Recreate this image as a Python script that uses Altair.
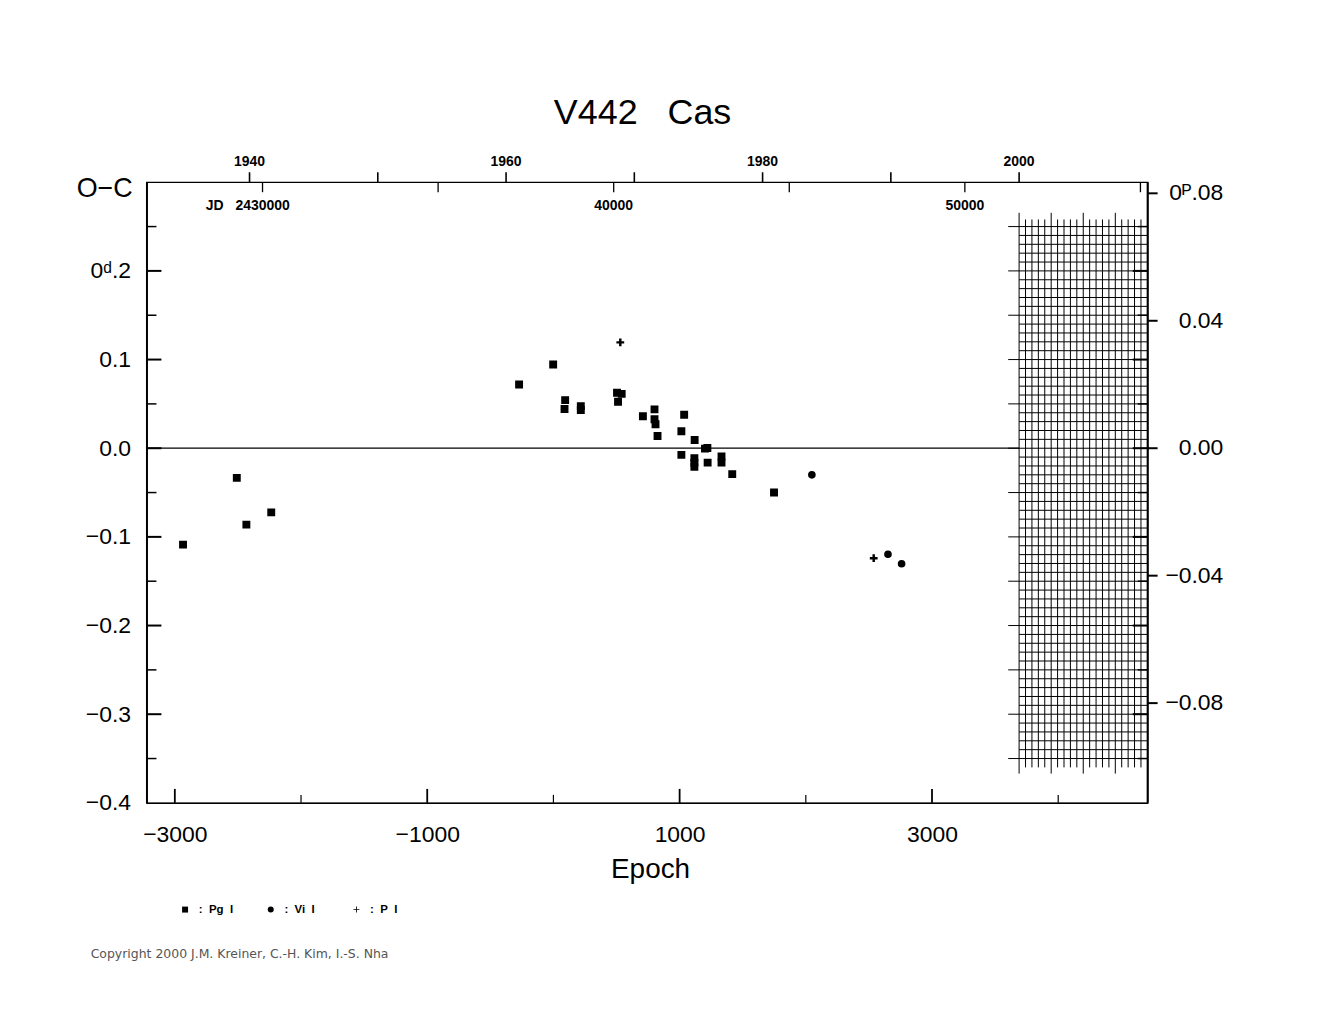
import altair as alt
import pandas as pd
import numpy as np

FONT = "Liberation Sans"

# ---- ephemeris used for the top (calendar / JD) scales ----
T0 = 2438283.7
PER = 3.5937

def jd_to_epoch(jd):
    return (jd - T0) / PER

def year_to_epoch(y):
    return jd_to_epoch(2451545.0 + (y - 2000.0) * 365.25)

# ---- observations (epoch, O-C in days) ----
pg_epoch = [-2935, -2509, -2433, -2236, -272, -2, 93, 88, 217, 217, 504, 541, 512,
            709, 801, 801, 809, 825, 1036, 1014, 1119, 1220, 1201, 1014, 1117, 1117,
            1117, 1222, 1332, 1332, 1417, 1748]
pg_oc = [-0.1087, -0.0334, -0.0862, -0.0724, 0.0719, 0.0944, 0.0543, 0.0442, 0.0475,
         0.0430, 0.0625, 0.0613, 0.0524, 0.0360, 0.0438, 0.0326, 0.0270, 0.0138,
         0.0378, 0.0191, 0.0093, 0.0003, -0.0004, -0.0075, -0.0112, -0.0162, -0.0210,
         -0.0162, -0.0092, -0.0162, -0.0292, -0.0499]
vi_epoch = [2048, 2651, 2759]
vi_oc = [-0.030, -0.1196, -0.1303]
p_epoch = [530, 2538]
p_oc = [0.1194, -0.124]

SRC = ["Pg", "Vi", "P"]
PLUS = "M-1,-0.14H-0.14V-1H0.14V-0.14H1V0.14H0.14V1H-0.14V0.14H-1Z"

# ---- axes ----
XMIN, XMAX = -3224.7, 4708.7
YMIN, YMAX = -0.4, 0.3
x_labeled = [-3000, -1000, 1000, 3000]
x_unlabeled = [-2000, 0, 2000, 4000]
y_labels = [-0.4, -0.3, -0.2, -0.1, 0.0, 0.1, 0.2]
y_major = [-0.3, -0.2, -0.1, 0.0, 0.1, 0.2]
y_minor = [-0.35, -0.25, -0.15, -0.05, 0.05, 0.15, 0.25]
phase_ticks = [-0.08, -0.04, 0.0, 0.04, 0.08]
phase_labels = ["\u22120.08", "\u22120.04", "0.00", "0.04", "0\u1d3e.08"]
year_ticks = [1940, 1950, 1960, 1970, 1980, 1990, 2000]
year_labels = ["1940", "", "1960", "", "1980", "", "2000"]
jd_ticks = [2430000, 2435000, 2440000, 2445000, 2450000, 2455000]
jd_labels = ["2430000", "", "40000", "", "50000", ""]

W, H = 1005, 623

xs = alt.Scale(domain=[XMIN, XMAX], nice=False, zero=False)
ys = alt.Scale(domain=[YMIN, YMAX], nice=False, zero=False)

XAX = alt.Axis(values=x_labeled, format="d", ticks=False, grid=False, domainWidth=1.3,
               domainColor="black", labelFont=FONT, labelFontSize=23, labelColor="black",
               labelPadding=21, labelFlush=False, title=None)
YAX = alt.Axis(values=y_labels, format=".1f", ticks=False, grid=False, domainWidth=2,
               domainColor="black", labelFont=FONT, labelFontSize=23, labelColor="black",
               labelPadding=16, labelFlush=False, title=None,
               labelExpr="datum.value == 0.2 ? '0\u1d48.2' : datum.label")


def X(field, **kw):
    return alt.X(field, type="quantitative", scale=xs, axis=XAX, **kw)


def Y(field, **kw):
    return alt.Y(field, type="quantitative", scale=ys, axis=YAX, **kw)


def txt(s, x, y, size, font=FONT, color="black", **kw):
    return alt.Chart(pd.DataFrame({"t": [s]})).mark_text(
        font=font, fontSize=size, color=color, **kw
    ).encode(x=alt.value(x), y=alt.value(y), text="t:N")


# ---- hatched grid (after 2000) ----
g_years = [2000 + 0.5 * k for k in range(20)]
vgrid = pd.DataFrame({
    "e": [year_to_epoch(y) for y in g_years],
    "top": [0.2655 if k % 5 == 0 else 0.258 for k in range(20)],
    "bot": [-0.367 if k % 5 == 0 else -0.360 for k in range(20)],
})
h_oc = np.round(np.arange(-35, 26) / 100.0, 2)
hgrid = pd.DataFrame({
    "oc": h_oc,
    "x0": [year_to_epoch(1999.15) if abs(round(v * 100)) % 5 == 0 else year_to_epoch(2000) for v in h_oc],
    "x1": [XMAX] * len(h_oc),
})
vgrid_layer = alt.Chart(vgrid).mark_rule(color="black", strokeWidth=1).encode(
    x=X("e"), y=Y("top"), y2="bot")
hgrid_layer = alt.Chart(hgrid).mark_rule(color="black", strokeWidth=1).encode(
    x=X("x0"), x2="x1", y=Y("oc"))

# ---- zero line ----
zero = alt.Chart(pd.DataFrame({"a": [XMIN], "b": [year_to_epoch(2000)], "y": [0.0]})).mark_rule(
    color="black", strokeWidth=1.3).encode(x=X("a"), x2="b", y=Y("y"))

# ---- inward ticks ----
def hticks(vals, x0, x1, sw):
    return alt.Chart(pd.DataFrame({"v": vals})).mark_rule(color="black", strokeWidth=sw).encode(
        y=Y("v"), x=alt.value(x0), x2=alt.value(x1))

def vticks(vals, y0, y1, sw):
    return alt.Chart(pd.DataFrame({"v": vals})).mark_rule(color="black", strokeWidth=sw).encode(
        x=X("v"), y=alt.value(y0), y2=alt.value(y1))

left_major = hticks(y_major, 0, 15, 2)
left_minor = hticks(y_minor, 0, 10, 1.5)
right_major = hticks(y_major, W - 15, W, 2)
right_minor = hticks(y_minor, W - 10, W, 1.5)
bot_lab = vticks(x_labeled, H, H - 14, 1.8)
bot_unl = vticks(x_unlabeled, H, H - 8, 1.2)

# right border (thick)
right_border = alt.Chart(pd.DataFrame({"a": [0]})).mark_rule(color="black", strokeWidth=2).encode(
    x=alt.value(W), y=alt.value(0), y2=alt.value(H))

# ---- right phase axis ----
ph = pd.DataFrame({"d": [p * PER for p in phase_ticks], "lab": phase_labels})
ph_ticks = alt.Chart(ph).mark_rule(color="black", strokeWidth=2).encode(
    y=Y("d"), x=alt.value(W), x2=alt.value(W + 10))
ph_text = alt.Chart(ph).mark_text(font=FONT, fontSize=23, align="right", color="black").encode(
    y=Y("d"), x=alt.value(W + 76), text="lab:N")

# ---- top axes: calendar years (up) and JD (down) ----
yr = pd.DataFrame({"e": [year_to_epoch(y) for y in year_ticks], "lab": year_labels})
jd = pd.DataFrame({"e": [jd_to_epoch(j) for j in jd_ticks], "lab": jd_labels})
yr_ticks = alt.Chart(yr).mark_rule(color="black", strokeWidth=1.6).encode(
    x=X("e"), y=alt.value(0), y2=alt.value(-10))
yr_text = alt.Chart(yr).mark_text(font=FONT, fontSize=14, fontWeight="bold", color="black").encode(
    x=X("e"), y=alt.value(-20), text="lab:N")
jd_tk = alt.Chart(jd).mark_rule(color="black", strokeWidth=1.3).encode(
    x=X("e"), y=alt.value(0), y2=alt.value(10))
jd_text = alt.Chart(jd).mark_text(font=FONT, fontSize=14, fontWeight="bold", color="black").encode(
    x=X("e"), y=alt.value(24), text="lab:N")
jd_pref = alt.Chart(pd.DataFrame({"e": [jd_to_epoch(jd_ticks[0])], "t": ["JD"]})).mark_text(
    font=FONT, fontSize=14, fontWeight="bold", dx=-48, color="black").encode(
    x=X("e"), y=alt.value(24), text="t:N")

# ---- observations ----
pts = pd.DataFrame({
    "epoch": pg_epoch + vi_epoch + p_epoch,
    "oc": pg_oc + vi_oc + p_oc,
    "src": ["Pg"] * len(pg_epoch) + ["Vi"] * len(vi_epoch) + ["P"] * len(p_epoch),
})
pts["kind"] = pts["src"]
points = alt.Chart(pts).mark_point(fill="black", stroke="black", strokeWidth=1.6, opacity=1).encode(
    x=X("epoch"), y=Y("oc"),
    shape=alt.Shape("src:N", scale=alt.Scale(domain=SRC, range=["square", "circle", PLUS]),
                    legend=alt.Legend(orient="none", legendX=33, legendY=724, direction="horizontal",
                                      columns=3, title=None, symbolSize=36, symbolFillColor="black",
                                      symbolStrokeColor="black", symbolStrokeWidth=1.2,
                                      labelFont=FONT, labelFontSize=11.5, labelFontWeight="bold",
                                      labelColor="black", labelOffset=8, columnPadding=32,
                                      gridAlign="all", padding=0,
                                      labelExpr="':\u00a0\u00a0' + datum.label + '\u00a0\u00a0I'")),
    size=alt.Size("kind:N", scale=alt.Scale(domain=["Vi", "P", "Pg"], range=[37, 40, 55]), legend=None),
)

# ---- texts ----
title = txt("V442\u00a0\u00a0\u00a0Cas", 498, -69, 36)
oc_lab = txt("O\u2212C", -42, 7, 27)
epoch_lab = txt("Epoch", 506, 690, 28)
copyright_ = txt("Copyright 2000 J.M. Kreiner, C.-H. Kim, I.-S. Nha", -56, 775, 12.5,
                 font="DejaVu Sans", color="#555555", align="left")

chart = alt.layer(
    hgrid_layer, vgrid_layer, zero,
    left_major, left_minor, right_major, right_minor, bot_lab, bot_unl, right_border,
    ph_ticks, ph_text,
    yr_ticks, yr_text, jd_tk, jd_text, jd_pref,
    points, title, oc_lab, epoch_lab, copyright_,
).properties(
    width=W, height=H, autosize="none",
    padding={"left": 139, "top": 173, "right": 170, "bottom": 200},
    background="white",
).configure_view(stroke="black", strokeWidth=1.3)

chart.save("out.html", embed_options={"renderer": "svg", "actions": False})
